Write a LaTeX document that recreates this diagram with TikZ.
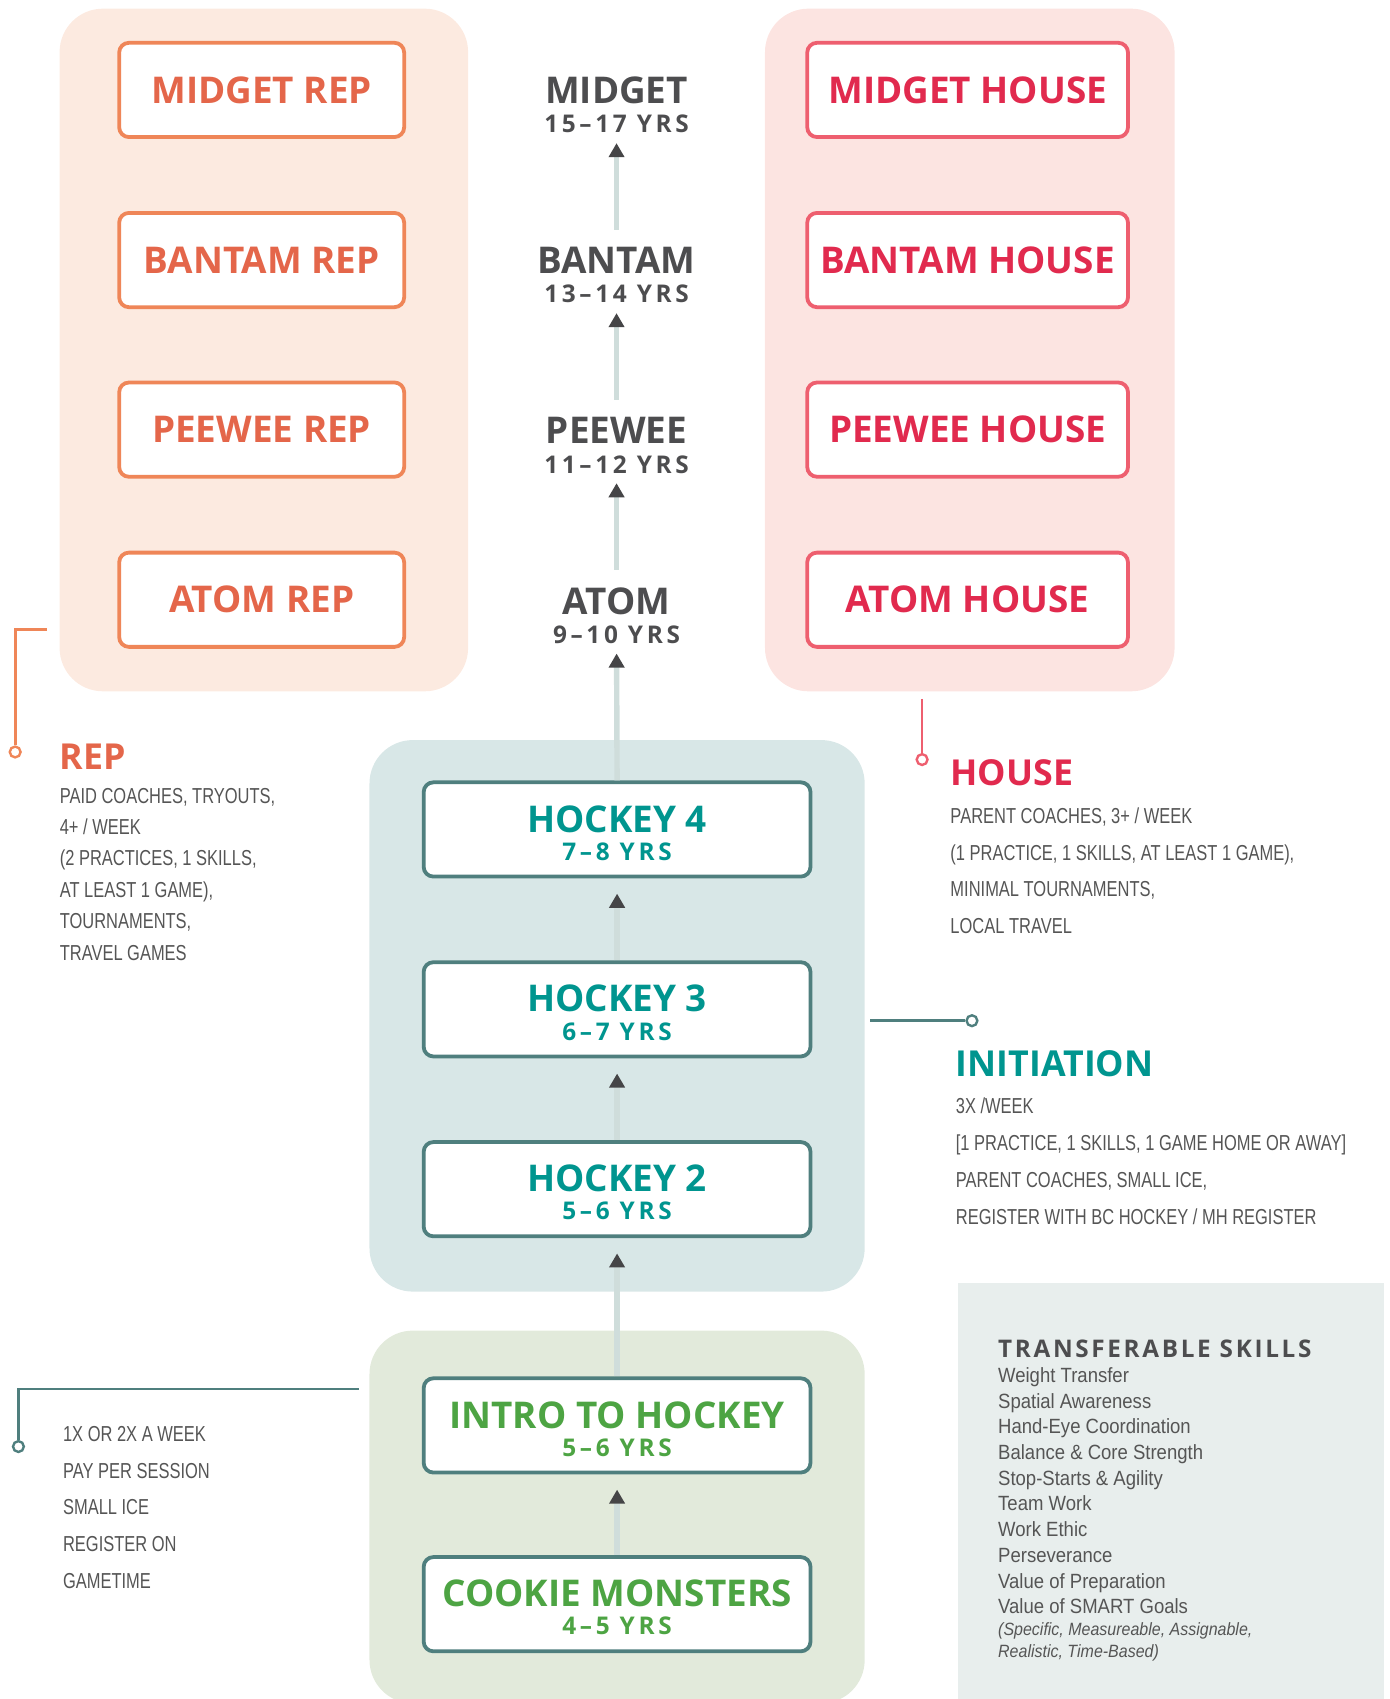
\documentclass[tikz,border=0pt]{standalone}
\usepackage{fontspec}
\setmainfont{Open Sans}
\newfontfamily\spacedfont[LetterSpace=15]{Open Sans}
\newfontfamily\titlefont[LetterSpace=11]{Open Sans}
\newfontfamily\condfont[FakeStretch=0.76]{Liberation Sans}
\newfontfamily\skillfont[FakeStretch=0.9]{Liberation Sans}
\usetikzlibrary{arrows.meta}

\definecolor{repfill}{HTML}{FCEAE0}
\definecolor{repline}{HTML}{EF8658}
\definecolor{reptext}{HTML}{E4664A}
\definecolor{housefill}{HTML}{FCE4E1}
\definecolor{houseline}{HTML}{EE5F6F}
\definecolor{housetext}{HTML}{E12A4E}
\definecolor{hockeyfill}{HTML}{D8E7E7}
\definecolor{introfill}{HTML}{E2EADB}
\definecolor{skillfill}{HTML}{E8EEED}
\definecolor{boxline}{HTML}{4F7F7E}
\definecolor{hockeytext}{HTML}{00958F}
\definecolor{introtext}{HTML}{4DA443}
\definecolor{agegray}{HTML}{4D4D4F}
\definecolor{tipgray}{HTML}{454547}
\definecolor{flowline}{HTML}{CFDDDB}
\definecolor{bodygray}{HTML}{555555}

\newcommand{\yrs}[1]{{\spacedfont\bfseries\fontsize{22.5}{26}\selectfont #1}}
\newcommand{\lvl}[2]{\rule{0pt}{31pt}#1\\\yrs{#2}}

\begin{document}
\begin{tikzpicture}[x=1pt, y=-1pt,
    panel/.style={rounded corners=40pt},
    levelbox/.style={draw, fill=white, line width=3.5pt, rounded corners=9pt,
        minimum height=87pt, inner sep=0pt, align=center,
        font=\bfseries\fontsize{34}{26}\selectfont},
    repbox/.style={levelbox, draw=repline, text=reptext, minimum width=263pt},
    housebox/.style={levelbox, draw=houseline, text=housetext, minimum width=296pt},
    initbox/.style={levelbox, draw=boxline, minimum width=357pt},
    agelabel/.style={text=agegray, inner sep=0pt, align=center,
        font=\bfseries\fontsize{34}{27}\selectfont},
    flow/.style={draw=flowline, line width=5pt,
        -{Triangle[width=14pt, length=13pt, color=tipgray]}},
    dot/.style={circle, draw, fill=white, line width=2.2pt, minimum size=10pt, inner sep=0pt},
    hook/.style={line width=2.5pt},
    heading/.style={anchor=north west, inner sep=0pt, font=\bfseries\fontsize{33}{33}\selectfont},
    notes/.style={anchor=north west, inner sep=0pt, align=left, text=bodygray,
        font=\condfont\fontsize{20}{34}\selectfont}]
    \useasboundingbox (0,0) rectangle (1282,1568);

    % panels
    \fill[panel, repfill] (55,8) rectangle (432,638);
    \fill[panel, housefill] (706,8) rectangle (1084,638);
    \fill[panel, hockeyfill] (341,683) rectangle (798,1192);
    \fill[panel, introfill] (341,1228) rectangle (798,1572);
    \fill[skillfill] (884,1184) rectangle (1277,1580);

    % rep column
    \node[repbox] (midgetrep) at (241.5,83) {MIDGET REP};
    \node[repbox] (bantamrep) at (241.5,240) {BANTAM REP};
    \node[repbox] (peeweerep) at (241.5,396.5) {PEEWEE REP};
    \node[repbox] (atomrep) at (241.5,553.5) {ATOM REP};

    % house column
    \node[housebox] (midgethouse) at (893,83) {MIDGET HOUSE};
    \node[housebox] (bantamhouse) at (893,240) {BANTAM HOUSE};
    \node[housebox] (peeweehouse) at (893,396.5) {PEEWEE HOUSE};
    \node[housebox] (atomhouse) at (893,553.5) {ATOM HOUSE};

    % age levels
    \node[agelabel] (midget) at (569,97) {MIDGET\\\yrs{15–17 YRS}};
    \node[agelabel] (bantam) at (569,254) {BANTAM\\\yrs{13–14 YRS}};
    \node[agelabel] (peewee) at (569,411) {PEEWEE\\\yrs{11–12 YRS}};
    \node[agelabel] (atom) at (569,568) {ATOM\\\yrs{9–10 YRS}};

    % initiation boxes
    \node[initbox, text=hockeytext] (hockey4) at (569.5,765.5) {\lvl{HOCKEY 4}{7–8 YRS}};
    \node[initbox, text=hockeytext] (hockey3) at (569.5,931.5) {\lvl{HOCKEY 3}{6–7 YRS}};
    \node[initbox, text=hockeytext] (hockey2) at (569.5,1097.5) {\lvl{HOCKEY 2}{5–6 YRS}};
    \node[initbox, text=introtext] (intro) at (569.5,1315.5) {\lvl{INTRO TO HOCKEY}{5–6 YRS}};
    \node[initbox, text=introtext] (cookie) at (569.5,1480.5) {\lvl{COOKIE MONSTERS}{4–5 YRS}};

    % arrows
    \draw[flow, shorten <=16pt, shorten >=9pt] (bantam.north) -- (midget.south);
    \draw[flow, shorten <=16pt, shorten >=9pt] (peewee.north) -- (bantam.south);
    \draw[flow, shorten <=16pt, shorten >=9pt] (atom.north) -- (peewee.south);
    \draw[flow, shorten >=9pt] (hockey4.north) -- (atom.south);
    \draw[flow, shorten >=14pt] (hockey3.north) -- (hockey4.south);
    \draw[flow, shorten >=14pt] (hockey2.north) -- (hockey3.south);
    \draw[flow, shorten >=14pt] (intro.north) -- (hockey2.south);
    \draw[flow, shorten >=14pt] (cookie.north) -- (intro.south);

    % call-outs
    \node[dot, draw=repline] (repdot) at (14,694) {};
    \coordinate (repend) at (43,581);
    \draw[hook, repline] (repend) -| (repdot);
    \node[dot, draw=houseline] (housedot) at (851,701) {};
    \coordinate (houseend) at (851,645);
    \draw[hook, houseline] (houseend) -- (housedot);
    \node[dot, draw=boxline] (initdot) at (897,942) {};
    \coordinate (initend) at (803,942);
    \draw[hook, boxline] (initend) -- (initdot);
    \node[dot, draw=boxline] (introdot) at (17,1335) {};
    \coordinate (introend) at (331,1282);
    \draw[hook, boxline] (introend) -| (introdot);

    \node[heading, text=reptext] (rephead) at (55,686) {REP};
    \node[notes, font=\condfont\fontsize{20}{29}\selectfont] (repnotes) at (55,727)
        {PAID COACHES, TRYOUTS,\\4+ / WEEK\\(2 PRACTICES, 1 SKILLS,\\AT LEAST 1 GAME),\\TOURNAMENTS,\\TRAVEL GAMES};
    \node[heading, text=housetext] (househead) at (877,701) {HOUSE};
    \node[notes] (housenotes) at (877,745)
        {PARENT COACHES, 3+ / WEEK\\(1 PRACTICE, 1 SKILLS, AT LEAST 1 GAME),\\MINIMAL TOURNAMENTS,\\LOCAL TRAVEL};
    \node[heading, text=hockeytext] (inithead) at (882,969) {INITIATION};
    \node[notes] (initnotes) at (882,1013)
        {3X /WEEK\\{[}1 PRACTICE, 1 SKILLS, 1 GAME HOME OR AWAY{]}\\PARENT COACHES, SMALL ICE,\\REGISTER WITH BC HOCKEY / MH REGISTER};
    \node[notes] (intronotes) at (58,1316)
        {1X OR 2X A WEEK\\PAY PER SESSION\\SMALL ICE\\REGISTER ON\\GAMETIME};

    % skills
    \node[anchor=north west, inner sep=0pt, text=agegray,
        font=\titlefont\bfseries\fontsize{22.4}{24}\selectfont] (skillhead) at (921,1236) {TRANSFERABLE SKILLS};
    \node[anchor=north west, inner sep=0pt, align=left, text=bodygray,
        font=\skillfont\fontsize{19}{23.7}\selectfont] (skilllist) at (921,1262)
        {Weight Transfer\\Spatial Awareness\\Hand-Eye Coordination\\Balance \& Core Strength\\Stop-Starts \& Agility\\Team Work\\Work Ethic\\Perseverance\\Value of Preparation\\Value of SMART Goals};
    \node[anchor=north west, inner sep=0pt, align=left, text=bodygray,
        font=\skillfont\itshape\fontsize{16.4}{21}\selectfont] (skillnote) at (921,1497)
        {(Specific, Measureable, Assignable,\\Realistic, Time-Based)};
\end{tikzpicture}
\end{document}
